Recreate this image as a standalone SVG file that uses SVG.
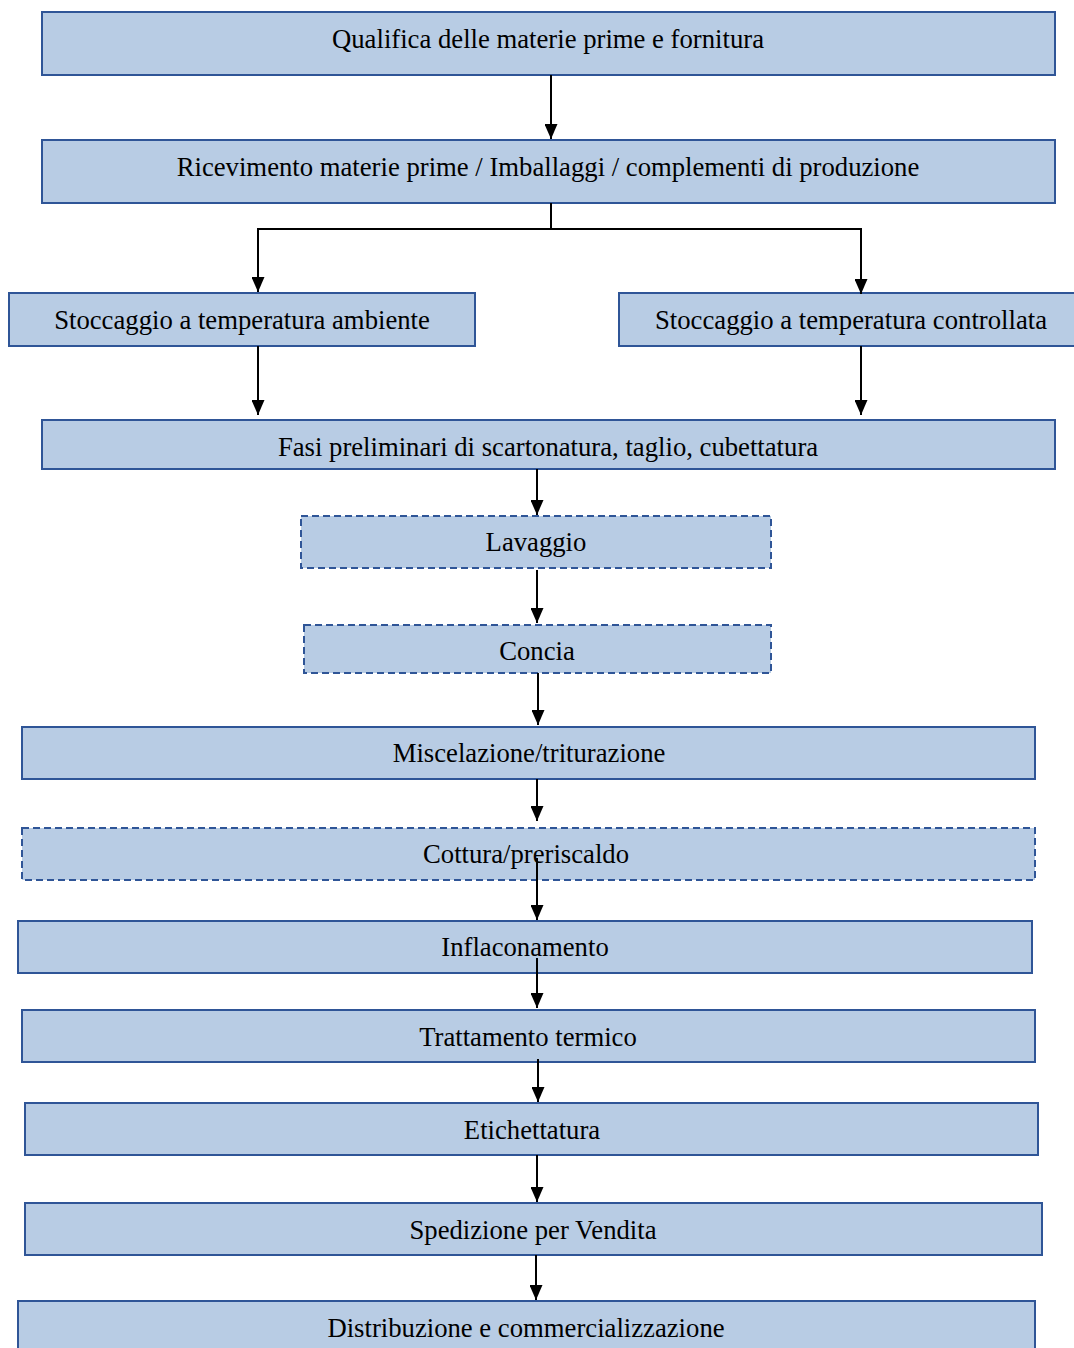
<svg xmlns="http://www.w3.org/2000/svg" width="1074" height="1348" viewBox="0 0 1074 1348">
<style>
.box{fill:#b8cce4;stroke:#2f5597;stroke-width:2}
.dash{stroke-dasharray:7,4}
.t{font-family:"Liberation Serif","Times New Roman",serif;font-size:26.7px;fill:#000;text-anchor:middle}
.c{fill:none;stroke:#000;stroke-width:2}
</style>
<defs>
<marker id="ah" viewBox="0 0 15 13" refX="15" refY="6.5" markerWidth="15" markerHeight="13" markerUnits="userSpaceOnUse" orient="auto">
<path d="M0,0 L15,6.5 L0,13 z" fill="#000"/>
</marker>
</defs>
<rect width="1074" height="1348" fill="#fff"/>
<g id="n1"><rect class="box" x="42" y="12" width="1013" height="63"/><text class="t" x="548" y="48">Qualifica delle materie prime e fornitura</text></g>
<g id="n2"><rect class="box" x="42" y="140" width="1013" height="63"/><text class="t" x="548" y="176">Ricevimento materie prime / Imballaggi / complementi di produzione</text></g>
<g id="n3"><rect class="box" x="9" y="293" width="466" height="53"/><text class="t" x="242" y="329">Stoccaggio a temperatura ambiente</text></g>
<g id="n4"><rect class="box" x="619" y="293" width="460" height="53"/><text class="t" x="851" y="329">Stoccaggio a temperatura controllata</text></g>
<g id="n5"><rect class="box" x="42" y="420" width="1013" height="49"/><text class="t" x="548" y="456">Fasi preliminari di scartonatura, taglio, cubettatura</text></g>
<g id="n6"><rect class="box dash" x="301" y="516" width="470" height="52"/><text class="t" x="536" y="551">Lavaggio</text></g>
<g id="n7"><rect class="box dash" x="304" y="625" width="467" height="48"/><text class="t" x="537" y="660">Concia</text></g>
<g id="n8"><rect class="box" x="22" y="727" width="1013" height="52"/><text class="t" x="529" y="762">Miscelazione/triturazione</text></g>
<g id="n9"><rect class="box dash" x="22" y="828" width="1013" height="52"/><text class="t" x="526" y="863">Cottura/preriscaldo</text></g>
<g id="n10"><rect class="box" x="18" y="921" width="1014" height="52"/><text class="t" x="525" y="956">Inflaconamento</text></g>
<g id="n11"><rect class="box" x="22" y="1010" width="1013" height="52"/><text class="t" x="528" y="1046">Trattamento termico</text></g>
<g id="n12"><rect class="box" x="25" y="1103" width="1013" height="52"/><text class="t" x="532" y="1139">Etichettatura</text></g>
<g id="n13"><rect class="box" x="25" y="1203" width="1017" height="52"/><text class="t" x="533" y="1239">Spedizione per Vendita</text></g>
<g id="n14"><rect class="box" x="18" y="1301" width="1017" height="60"/><text class="t" x="526" y="1337">Distribuzione e commercializzazione</text></g>
<g id="connectors">
<path class="c" d="M551,75 V139" marker-end="url(#ah)"/>
<path class="c" d="M551,203 V229"/>
<path class="c" d="M551,229 H258 V292" marker-end="url(#ah)"/>
<path class="c" d="M551,229 H861 V294" marker-end="url(#ah)"/>
<path class="c" d="M258,346 V415" marker-end="url(#ah)"/>
<path class="c" d="M861,346 V415" marker-end="url(#ah)"/>
<path class="c" d="M537,469 V515" marker-end="url(#ah)"/>
<path class="c" d="M537,570 V623" marker-end="url(#ah)"/>
<path class="c" d="M538,673 V725" marker-end="url(#ah)"/>
<path class="c" d="M537,779 V821" marker-end="url(#ah)"/>
<path class="c" d="M537,858 V920" marker-end="url(#ah)"/>
<path class="c" d="M537,958 V1008" marker-end="url(#ah)"/>
<path class="c" d="M538,1059 V1102" marker-end="url(#ah)"/>
<path class="c" d="M537,1155 V1202" marker-end="url(#ah)"/>
<path class="c" d="M536,1255 V1300" marker-end="url(#ah)"/>
</g>
</svg>
